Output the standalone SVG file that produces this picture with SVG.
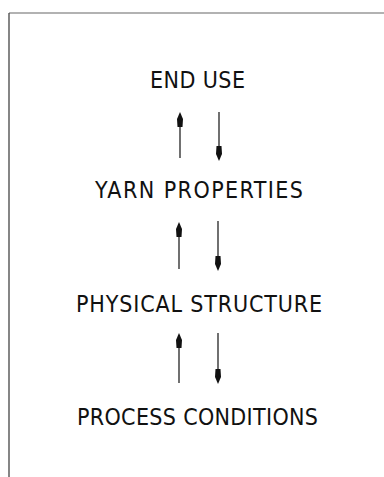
<svg xmlns="http://www.w3.org/2000/svg" width="384" height="477" viewBox="0 0 384 477">
  <style>
    .frame { stroke: #444; stroke-width: 1.3; fill: none; }
    .frame-top { stroke: #666; stroke-width: 1.2; fill: none; }
    .label { font-family: "DejaVu Sans Condensed", "DejaVu Sans", sans-serif; font-size: 23px; fill: #111; }
    .shaft { stroke: #111; stroke-width: 1.2; fill: none; }
    .head { fill: #111; }
  </style>
  <defs>
    <!-- narrow, elongated arrowheads; tip at (0,0) -->
    <polygon id="headUp" class="head" points="0,0 3,7 2.5,15 -2.5,15 -3,7"/>
    <polygon id="headDown" class="head" points="0,0 3,-7 2.5,-15 -2.5,-15 -3,-7"/>
  </defs>

  <!-- open frame: top and left edges only -->
  <path class="frame-top" d="M9,13 H384"/>
  <path class="frame" d="M9,477 V13"/>

  <g id="end-use">
    <text class="label" x="150" y="88" textLength="95" lengthAdjust="spacing">END USE</text>
  </g>
  <g id="yarn-properties">
    <text class="label" x="95" y="198" textLength="208" lengthAdjust="spacing">YARN PROPERTIES</text>
  </g>
  <g id="physical-structure">
    <text class="label" x="76" y="312" textLength="246" lengthAdjust="spacing">PHYSICAL STRUCTURE</text>
  </g>
  <g id="process-conditions">
    <text class="label" x="77" y="425" textLength="241" lengthAdjust="spacing">PROCESS CONDITIONS</text>
  </g>

  <g id="connectors">
    <!-- yarn properties <-> end use -->
    <line class="shaft" x1="180" y1="158" x2="180" y2="118"/>
    <use href="#headUp" x="180" y="112"/>
    <line class="shaft" x1="219" y1="112" x2="219" y2="154"/>
    <use href="#headDown" x="219" y="161"/>

    <!-- physical structure <-> yarn properties -->
    <line class="shaft" x1="179" y1="269" x2="179" y2="228"/>
    <use href="#headUp" x="179" y="222"/>
    <line class="shaft" x1="218" y1="221" x2="218" y2="264"/>
    <use href="#headDown" x="218" y="271"/>

    <!-- process conditions <-> physical structure -->
    <line class="shaft" x1="179" y1="383" x2="179" y2="339"/>
    <use href="#headUp" x="179" y="333"/>
    <line class="shaft" x1="218" y1="333" x2="218" y2="377"/>
    <use href="#headDown" x="218" y="384"/>
  </g>
</svg>
